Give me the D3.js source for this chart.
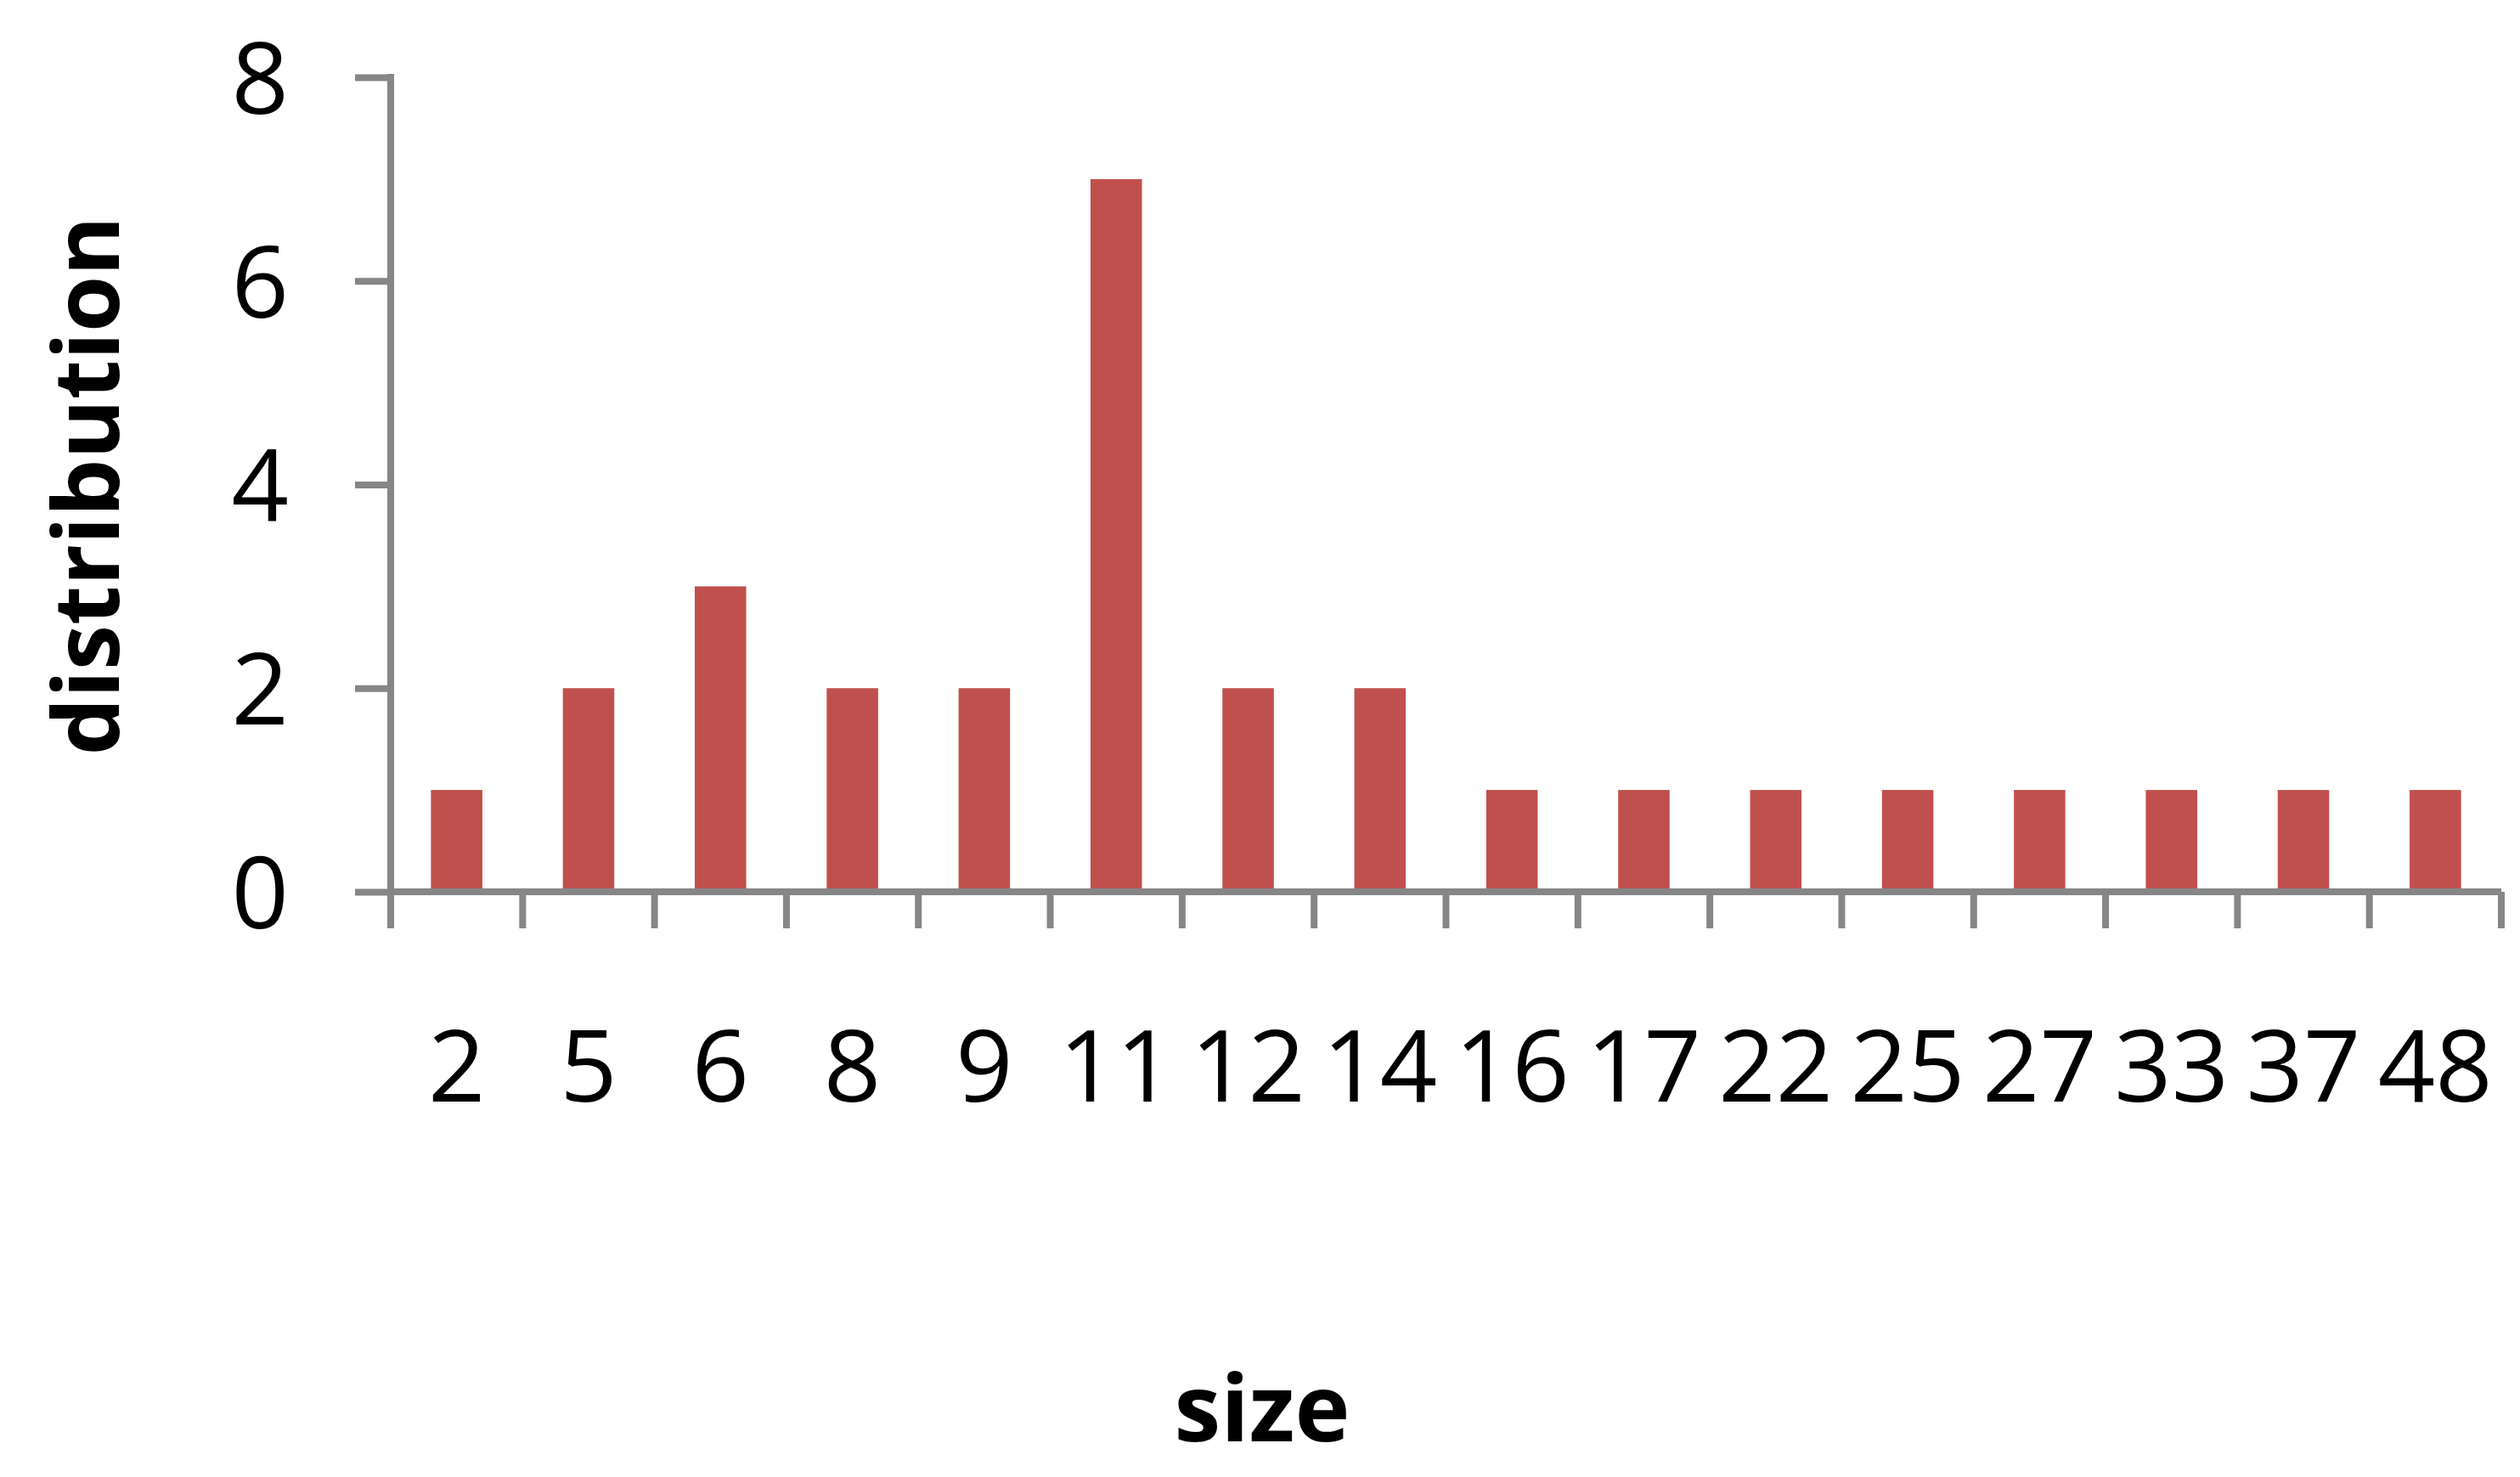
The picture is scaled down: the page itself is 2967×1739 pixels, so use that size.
<!DOCTYPE html>
<html>
<head>
<meta charset="utf-8">
<script src="https://cdn.jsdelivr.net/npm/d3@7"></script>
<style>
  body { margin: 0; background: #fff; }
  svg text { font-family: "Open Sans", "Noto Sans", sans-serif; fill: #000; }
</style>
</head>
<body>
<svg id="chart"></svg>
<script>
// sizes on the x axis and how many of each
var sizes = ['2', '5', '6', '8', '9', '11', '12', '14', '16', '17', '22', '25', '27', '33', '37', '48']
var counts = [1, 2, 3, 2, 2, 7, 2, 2, 1, 1, 1, 1, 1, 1, 1, 1]
var yTicks = [0, 2, 4, 6, 8]

var width = 2967, height = 1739
var axisColor = '#868686'
var barColor = '#C0504D'

var svg = d3.select('#chart').attr('width', width).attr('height', height)

var x = d3.scaleBand().domain(sizes).range([460, 2945]).padding(0)
var y = d3.scaleLinear().domain([0, 8]).range([1050, 91])

var barW = x.bandwidth() * 0.39

// bars
svg.append('g').selectAll('rect')
  .data(sizes)
  .join('rect')
    .attr('x', d => x(d) + (x.bandwidth() - barW) / 2)
    .attr('width', barW)
    .attr('y', (d, i) => y(counts[i]))
    .attr('height', (d, i) => y(0) - y(counts[i]))
    .attr('fill', barColor)

// y axis
var yAxis = svg.append('g')
  .attr('transform', 'translate(' + x.range()[0] + ',0)')
  .call(d3.axisLeft(y).tickValues(yTicks).tickSize(42).tickSizeOuter(0).tickPadding(78))

yAxis.select('.domain').remove()
yAxis.selectAll('.tick line').attr('stroke', axisColor).attr('stroke-width', 8)
yAxis.selectAll('.tick text')
  .attr('font-size', 118)
  .attr('dy', '0.36em')

// y axis line, running down to the first category tick
svg.append('line')
  .attr('x1', x.range()[0]).attr('x2', x.range()[0])
  .attr('y1', y(8) - 4).attr('y2', y(0) + 43)
  .attr('stroke', axisColor).attr('stroke-width', 8)

// x axis line
svg.append('line')
  .attr('x1', x.range()[0]).attr('x2', x.range()[1])
  .attr('y1', y(0)).attr('y2', y(0))
  .attr('stroke', axisColor).attr('stroke-width', 8)

// category boundary ticks
var bounds = sizes.map(d => x(d)).concat([x.range()[1]])
svg.append('g').selectAll('line')
  .data(bounds.slice(1))
  .join('line')
    .attr('x1', d => d).attr('x2', d => d)
    .attr('y1', y(0)).attr('y2', y(0) + 43)
    .attr('stroke', axisColor).attr('stroke-width', 8)

// category labels
svg.append('g').selectAll('text')
  .data(sizes)
  .join('text')
    .attr('x', d => x(d) + x.bandwidth() / 2)
    .attr('y', 1297)
    .attr('text-anchor', 'middle')
    .attr('font-size', 118)
    .text(d => d)

// axis titles
svg.append('text')
  .attr('x', 1486).attr('y', 1697)
  .attr('text-anchor', 'middle')
  .attr('font-size', 110)
  .attr('font-weight', 'bold')
  .text('size')

svg.append('text')
  .attr('transform', 'translate(140,572) rotate(-90)')
  .attr('text-anchor', 'middle')
  .attr('font-size', 107)
  .attr('font-weight', 'bold')
  .text('distribution')
</script>
</body>
</html>
